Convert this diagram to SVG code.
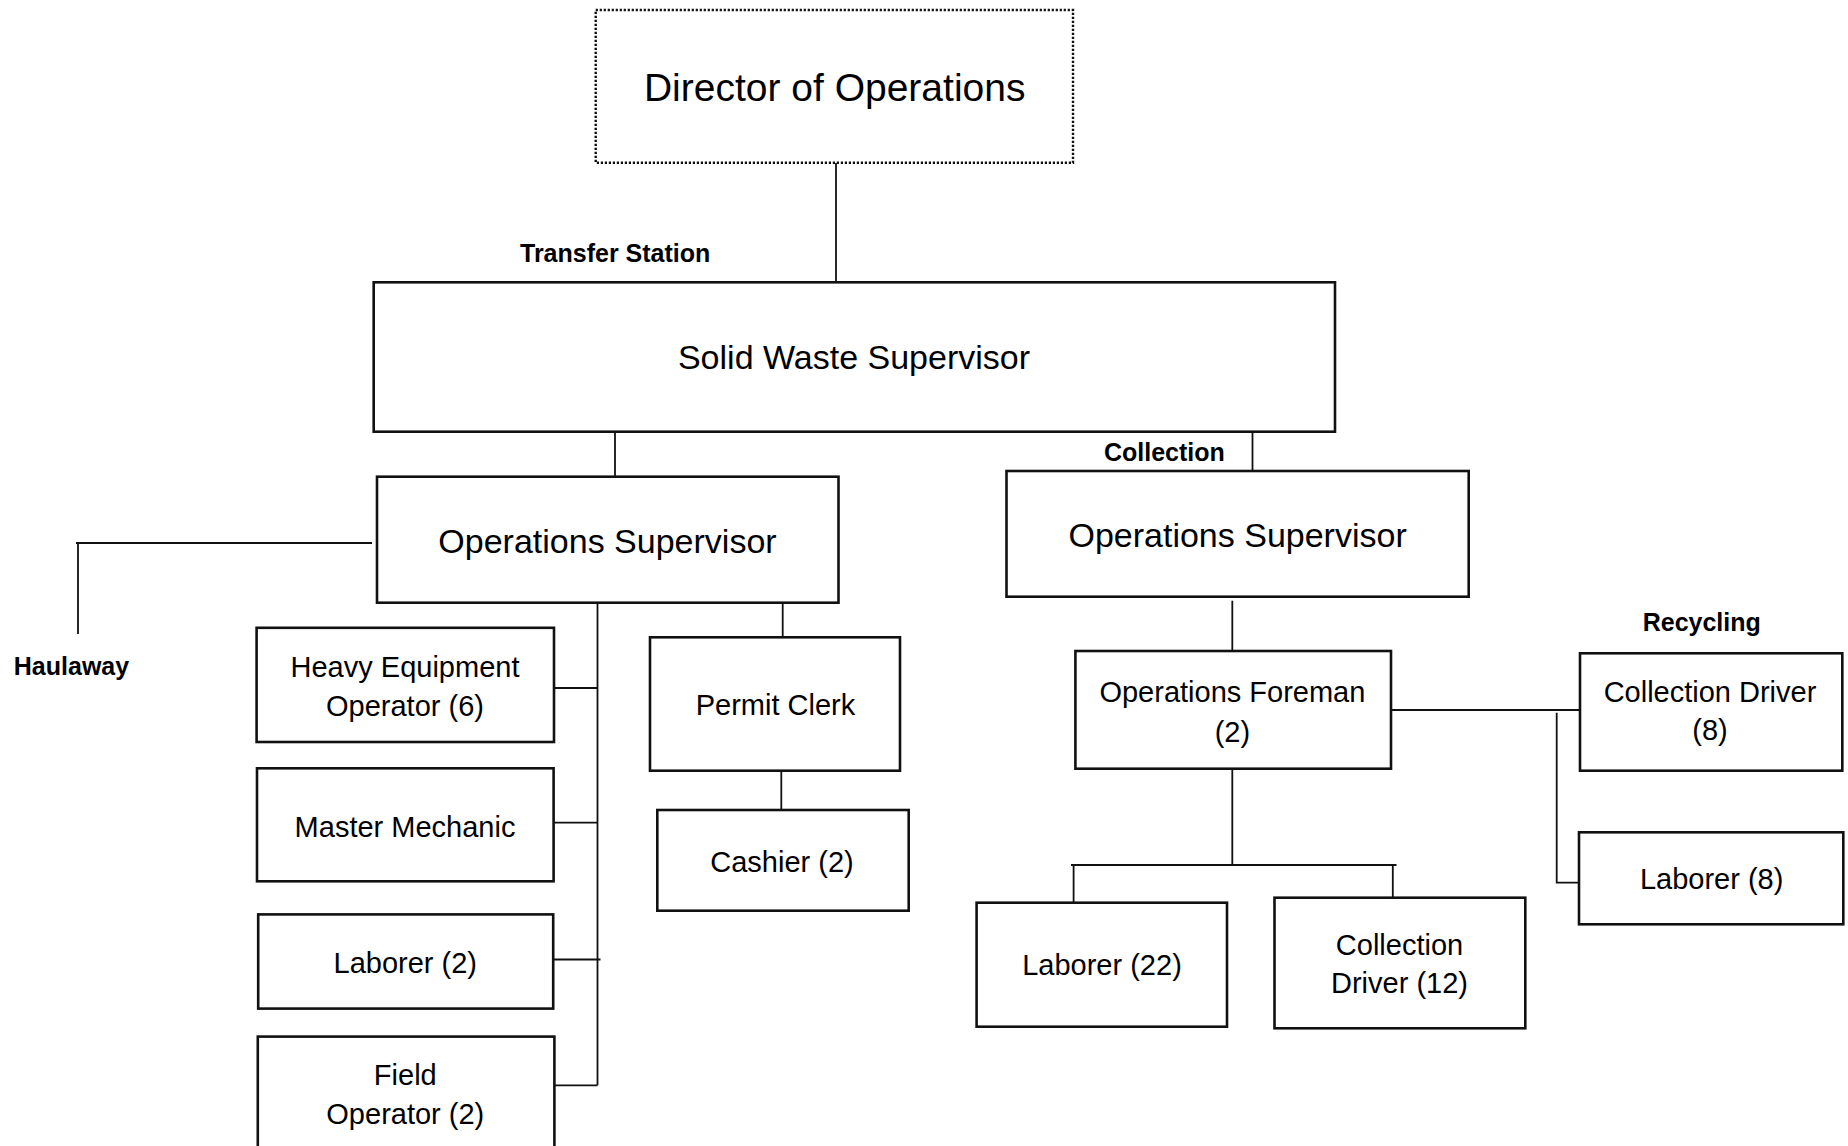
<svg xmlns="http://www.w3.org/2000/svg" width="1848" height="1146" viewBox="0 0 1848 1146">
  <style>
    .box { fill: #ffffff; stroke: #111111; stroke-width: 2.6; }
    .dotted { fill: #ffffff; stroke: #111111; stroke-width: 2.4; stroke-dasharray: 2.2 1.8; }
    .link { fill: none; stroke: #111111; stroke-width: 1.8; }
    text { font-family: "Liberation Sans", Arial, sans-serif; fill: #000000; }
    .t { font-size: 29px; text-anchor: middle; }
    .m { font-size: 34px; text-anchor: middle; }
    .big { font-size: 39px; text-anchor: middle; }
    .lbl { font-size: 25px; font-weight: bold; }
  </style>

  <rect width="1848" height="1146" fill="#ffffff"/>

  <!-- reporting lines -->
  <g id="connectors">
    <path class="link" d="M836 163 V282"/>
    <path class="link" d="M615 432 V477"/>
    <path class="link" d="M1252.5 432 V471"/>
    <path class="link" d="M372 543 H76 M78 543 V634"/>
    <path class="link" d="M597.5 603 V1085.3"/>
    <path class="link" d="M554 688 H597.5"/>
    <path class="link" d="M553.6 822.6 H597.5"/>
    <path class="link" d="M553.2 959.5 H600.5"/>
    <path class="link" d="M554.4 1085.3 H597.5"/>
    <path class="link" d="M782.7 603 V637.3"/>
    <path class="link" d="M781.3 771 V810"/>
    <path class="link" d="M1232.3 600.7 V651"/>
    <path class="link" d="M1232.3 769 V865 M1071 865 H1396.5 M1073.6 865 V902 M1392.8 865 V897"/>
    <path class="link" d="M1391 710 H1580"/>
    <path class="link" d="M1556.7 712.7 V882.7 H1579"/>
  </g>

  <!-- section labels -->
  <text class="lbl" x="520" y="261.7">Transfer Station</text>
  <text class="lbl" x="1104" y="460.7">Collection</text>
  <text class="lbl" x="13.8" y="675">Haulaway</text>
  <text class="lbl" x="1642.7" y="630.7">Recycling</text>

  <g id="director">
    <rect class="dotted" x="595.7" y="10" width="477.3" height="152.7"/>
    <text class="big" x="834.7" y="101">Director of Operations</text>
  </g>

  <g id="solid-waste-supervisor">
    <rect class="box" x="373.7" y="282.3" width="961.3" height="149.4"/>
    <text class="m" x="854" y="369">Solid Waste Supervisor</text>
  </g>

  <g id="ops-supervisor-transfer">
    <rect class="box" x="377" y="476.7" width="461.5" height="126"/>
    <text class="m" x="607.5" y="552.7">Operations Supervisor</text>
  </g>

  <g id="ops-supervisor-collection">
    <rect class="box" x="1006.5" y="471" width="462.2" height="125.7"/>
    <text class="m" x="1237.6" y="546.7">Operations Supervisor</text>
  </g>

  <g id="heavy-equipment-operator">
    <rect class="box" x="256.6" y="627.8" width="297.4" height="114.2"/>
    <text class="t" x="405" y="677">Heavy Equipment</text>
    <text class="t" x="405" y="715.6">Operator (6)</text>
  </g>

  <g id="master-mechanic">
    <rect class="box" x="257" y="768.3" width="296.6" height="113"/>
    <text class="t" x="405" y="836.6">Master Mechanic</text>
  </g>

  <g id="laborer-2">
    <rect class="box" x="258.2" y="914.4" width="295" height="94.2"/>
    <text class="t" x="405.3" y="973">Laborer (2)</text>
  </g>

  <g id="field-operator">
    <rect class="box" x="257.8" y="1036.6" width="296.6" height="130"/>
    <text class="t" x="405.3" y="1085">Field</text>
    <text class="t" x="405.3" y="1124">Operator (2)</text>
  </g>

  <g id="permit-clerk">
    <rect class="box" x="650" y="637.3" width="250" height="133.4"/>
    <text class="t" x="775.5" y="715">Permit Clerk</text>
  </g>

  <g id="cashier">
    <rect class="box" x="657.3" y="810" width="251.4" height="100.7"/>
    <text class="t" x="782" y="871.7">Cashier (2)</text>
  </g>

  <g id="operations-foreman">
    <rect class="box" x="1075.4" y="651" width="315.6" height="117.7"/>
    <text class="t" x="1232.4" y="701.7">Operations Foreman</text>
    <text class="t" x="1232.4" y="741.7">(2)</text>
  </g>

  <g id="laborer-22">
    <rect class="box" x="976.6" y="902.7" width="250.4" height="124"/>
    <text class="t" x="1102" y="975">Laborer (22)</text>
  </g>

  <g id="collection-driver-12">
    <rect class="box" x="1274.5" y="897.7" width="250.8" height="130.6"/>
    <text class="t" x="1399.5" y="955">Collection</text>
    <text class="t" x="1399.5" y="993.3">Driver (12)</text>
  </g>

  <g id="collection-driver-8">
    <rect class="box" x="1580" y="653.3" width="262.3" height="117.4"/>
    <text class="t" x="1710" y="701.7">Collection Driver</text>
    <text class="t" x="1710" y="740">(8)</text>
  </g>

  <g id="laborer-8">
    <rect class="box" x="1579" y="832.3" width="264.3" height="92"/>
    <text class="t" x="1711.7" y="889.3">Laborer (8)</text>
  </g>
</svg>
